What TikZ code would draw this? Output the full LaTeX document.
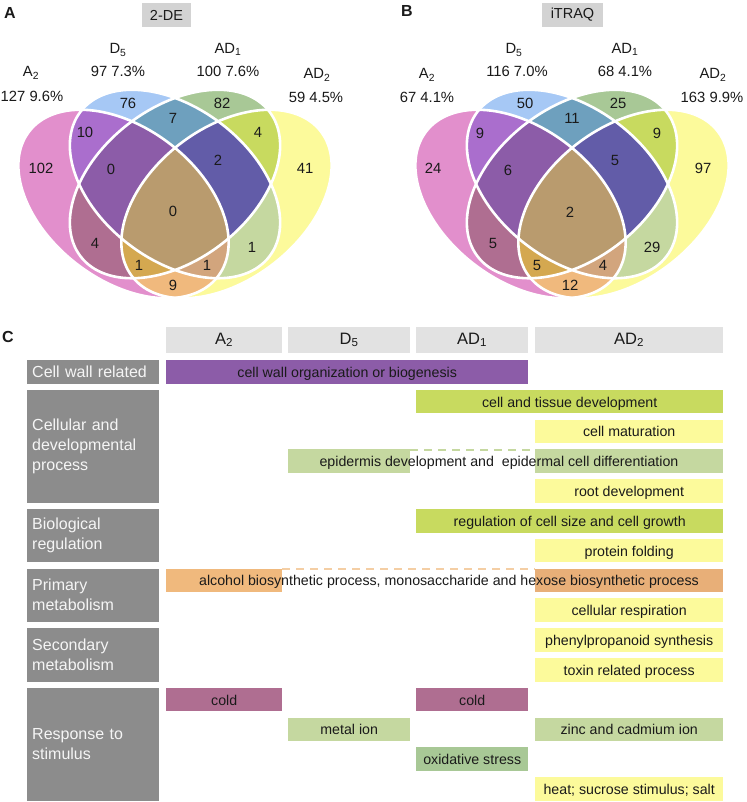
\documentclass[tikz,border=0pt]{standalone}
\usepackage{fontspec}
\setmainfont{Liberation Sans}
\definecolor{cA}{HTML}{E28FCC}
\definecolor{cB}{HTML}{A6C8F5}
\definecolor{cC}{HTML}{A8C896}
\definecolor{cD}{HTML}{FCFA9B}
\definecolor{cAB}{HTML}{AA6ECD}
\definecolor{cBC}{HTML}{6EA0BE}
\definecolor{cCD}{HTML}{C8DA5F}
\definecolor{cAC}{HTML}{AF6E91}
\definecolor{cBD}{HTML}{C5D8A0}
\definecolor{cAD}{HTML}{F0B97D}
\definecolor{cADb}{HTML}{E8AF78}
\definecolor{cABC}{HTML}{8C5CA8}
\definecolor{cBCD}{HTML}{625CA8}
\definecolor{cACD}{HTML}{D4A850}
\definecolor{cABD}{HTML}{D2A57D}
\definecolor{cABCD}{HTML}{B99B6E}
\definecolor{hdrgrey}{HTML}{D3D3D3}
\definecolor{colgrey}{HTML}{E2E2E2}
\definecolor{grpgrey}{HTML}{8C8C8C}
\definecolor{txt}{HTML}{1A1A1A}
\newcommand\venell{(0,0) ellipse [x radius=119pt,y radius=76pt]}
\newcommand\clipA{\clip[eA]\venell;}
\newcommand\clipB{\clip[eB]\venell;}
\newcommand\clipC{\clip[eC]\venell;}
\newcommand\clipD{\clip[eD]\venell;}
\newcommand\reg[2]{\begin{scope}#1\fill[#2] (0,80) rectangle (350,305);\end{scope}}
\newcommand\vennbody{%
\reg{\clipA}{cA}\reg{\clipB}{cB}\reg{\clipC}{cC}\reg{\clipD}{cD}%
\reg{\clipA\clipB}{cAB}\reg{\clipA\clipC}{cAC}\reg{\clipA\clipD}{cAD}%
\reg{\clipB\clipC}{cBC}\reg{\clipB\clipD}{cBD}\reg{\clipC\clipD}{cCD}%
\reg{\clipA\clipB\clipC}{cABC}\reg{\clipA\clipB\clipD}{cABD}%
\reg{\clipA\clipC\clipD}{cACD}\reg{\clipB\clipC\clipD}{cBCD}%
\reg{\clipA\clipB\clipC\clipD}{cABCD}%
\draw[outl,eA]\venell;\draw[outl,eB]\venell;\draw[outl,eC]\venell;\draw[outl,eD]\venell;}
\begin{document}
\begin{tikzpicture}[x=1pt,y=-1pt,
 eA/.style={shift={(123.5,204)},rotate=-37.5},
 eB/.style={shift={(175,184)},rotate=-37.5},
 eC/.style={shift={(175,184)},rotate=37.5},
 eD/.style={shift={(226.5,204)},rotate=37.5},
 outl/.style={draw=white,line width=2.6pt},
 num/.style={font=\fontsize{14.8}{17}\selectfont,inner sep=0pt,text=txt},
 panel/.style={font=\bfseries\fontsize{16}{18}\selectfont,inner sep=0pt,text=txt},
 meth/.style={fill=hdrgrey,inner sep=0pt,minimum height=24pt,font=\fontsize{14.5}{16}\selectfont,text=txt},
 colhdr/.style={fill=colgrey,inner sep=0pt,minimum height=26pt,font=\fontsize{16.5}{18}\selectfont,text=txt},
 grp/.style={fill=grpgrey,text=white!96!black,anchor=west,inner xsep=5pt,inner ysep=0pt,text width=122pt,align=left,font=\fontsize{16}{20}\selectfont},
 bar/.style={inner sep=0pt,minimum height=23.5pt,anchor=west,font=\fontsize{14.2}{16}\selectfont,text=txt,text height=11pt,text depth=0pt},
 btext/.style={inner sep=0pt,font=\fontsize{14.2}{16}\selectfont,text=txt,text height=11pt,text depth=0pt},
 dashln/.style={line width=2pt,dash pattern=on 8pt off 6pt}]
\fill[white] (0,0) rectangle (746,802);
\path[use as bounding box] (0,0) rectangle (746,802);
% ---------- Venn diagrams
\vennbody
\begin{scope}[xshift=397pt]\vennbody\end{scope}
\node[panel] (pA) at (10,13) {A};
\node[panel] (pB) at (407,11) {B};
\node[panel] (pC) at (8,337) {C};
\node[meth,minimum width=49pt] (m2de) at (166.5,15) {2-DE};
\node[meth,minimum width=61pt] (mitraq) at (572.5,15) {iTRAQ};
% labels A
\node[num] (lA1) at (31,73) {A\textsubscript{2}};
\node[num] (lA1n) at (32,96) {127 9.6\%};
\node[num] (lA2) at (118,50) {D\textsubscript{5}};
\node[num] (lA2n) at (118,71) {97 7.3\%};
\node[num] (lA3) at (228,49) {AD\textsubscript{1}};
\node[num] (lA3n) at (228,71) {100 7.6\%};
\node[num] (lA4) at (317,75) {AD\textsubscript{2}};
\node[num] (lA4n) at (316,97) {59 4.5\%};
% labels B
\node[num] (lB1) at (427,75) {A\textsubscript{2}};
\node[num] (lB1n) at (427,97) {67 4.1\%};
\node[num] (lB2) at (514,50) {D\textsubscript{5}};
\node[num] (lB2n) at (517,71) {116 7.0\%};
\node[num] (lB3) at (625,49) {AD\textsubscript{1}};
\node[num] (lB3n) at (625,71) {68 4.1\%};
\node[num] (lB4) at (713,75) {AD\textsubscript{2}};
\node[num] (lB4n) at (712,97) {163 9.9\%};
% numbers A
\node[num] (a1) at (41,168) {102};
\node[num] (a2) at (128,103) {76};
\node[num] (a3) at (222,103) {82};
\node[num] (a4) at (305,168) {41};
\node[num] (a5) at (85,132) {10};
\node[num] (a6) at (173,118) {7};
\node[num] (a7) at (258,132) {4};
\node[num] (a8) at (111,169) {0};
\node[num] (a9) at (218,160) {2};
\node[num] (a10) at (173,211) {0};
\node[num] (a11) at (95,243) {4};
\node[num] (a12) at (252,247) {1};
\node[num] (a13) at (139,265) {1};
\node[num] (a14) at (207,265) {1};
\node[num] (a15) at (173,285) {9};
% numbers B
\node[num] (b1) at (433,168) {24};
\node[num] (b2) at (525,103) {50};
\node[num] (b3) at (618,103) {25};
\node[num] (b4) at (703,168) {97};
\node[num] (b5) at (480,133) {9};
\node[num] (b6) at (572,118) {11};
\node[num] (b7) at (657,133) {9};
\node[num] (b8) at (508,170) {6};
\node[num] (b9) at (615,160) {5};
\node[num] (b10) at (570,212) {2};
\node[num] (b11) at (493,243) {5};
\node[num] (b12) at (652,247) {29};
\node[num] (b13) at (537,265) {5};
\node[num] (b14) at (603,265) {4};
\node[num] (b15) at (570,285) {12};
% ---------- table C
\node[colhdr,minimum width=116pt] (hA) at (224,340) {A\textsubscript{2}};
\node[colhdr,minimum width=122pt] (hD) at (349,340) {D\textsubscript{5}};
\node[colhdr,minimum width=112pt] (hAD1) at (472,340) {AD\textsubscript{1}};
\node[colhdr,minimum width=188pt] (hAD2) at (629,340) {AD\textsubscript{2}};
\node[grp,minimum height=23.5pt] (g1) at (27,371.75) {Cell wall related};
\node[grp,minimum height=112.9pt] (g2) at (27,446.25) {Cellular and\\developmental\\process};
\node[grp,minimum height=53.3pt] (g3) at (27,535.65) {Biological\\regulation};
\node[grp,minimum height=53.3pt] (g4) at (27,595.25) {Primary\\metabolism};
\node[grp,minimum height=53.3pt] (g5) at (27,654.85) {Secondary\\metabolism};
\node[grp,minimum height=112.9pt] (g6) at (27,744.25) {Response to\\stimulus};
% rows
\node[bar,fill=cABC,minimum width=362pt] (r0) at (166,371.75) {cell wall organization or biogenesis};
\node[bar,fill=cCD,minimum width=307pt] (r1) at (416,401.55) {cell and tissue development};
\node[bar,fill=cD,minimum width=188pt] (r2) at (535,431.35) {cell maturation};
\node[bar,fill=cBD,minimum width=122pt] (r3a) at (288,461.15) {};
\node[bar,fill=cBD,minimum width=188pt] (r3b) at (535,461.15) {};
\draw[dashln,draw=cBD] ([yshift=-1pt]r3a.north east) -- ([yshift=-1pt]r3b.north west);
\node[btext] (r3t) at (499,461.15) {epidermis development and\ \ epidermal cell differentiation};
\node[bar,fill=cD,minimum width=188pt] (r4) at (535,490.95) {root development};
\node[bar,fill=cCD,minimum width=307pt] (r5) at (416,520.75) {regulation of cell size and cell growth};
\node[bar,fill=cD,minimum width=188pt] (r6) at (535,550.55) {protein folding};
\node[bar,fill=cAD,minimum width=116pt] (r7a) at (166,580.35) {};
\node[bar,fill=cADb,minimum width=188pt] (r7b) at (535,580.35) {};
\draw[dashln,draw=cAD!70!white] ([yshift=-1pt]r7a.north east) -- ([yshift=-1pt]r7b.north west);
\node[btext] (r7t) at (449,580.35) {alcohol biosynthetic process, monosaccharide and hexose biosynthetic process};
\node[bar,fill=cD,minimum width=188pt] (r8) at (535,610.15) {cellular respiration};
\node[bar,fill=cD,minimum width=188pt] (r9) at (535,639.95) {phenylpropanoid synthesis};
\node[bar,fill=cD,minimum width=188pt] (r10) at (535,669.75) {toxin related process};
\node[bar,fill=cAC,minimum width=116pt] (r11a) at (166,699.55) {cold};
\node[bar,fill=cAC,minimum width=112pt] (r11b) at (416,699.55) {cold};
\node[bar,fill=cBD,minimum width=122pt] (r12a) at (288,729.35) {metal ion};
\node[bar,fill=cBD,minimum width=188pt] (r12b) at (535,729.35) {zinc and cadmium ion};
\node[bar,fill=cC,minimum width=112pt] (r13) at (416,759.15) {oxidative stress};
\node[bar,fill=cD,minimum width=188pt] (r14) at (535,788.95) {heat; sucrose stimulus; salt};
\end{tikzpicture}
\end{document}
